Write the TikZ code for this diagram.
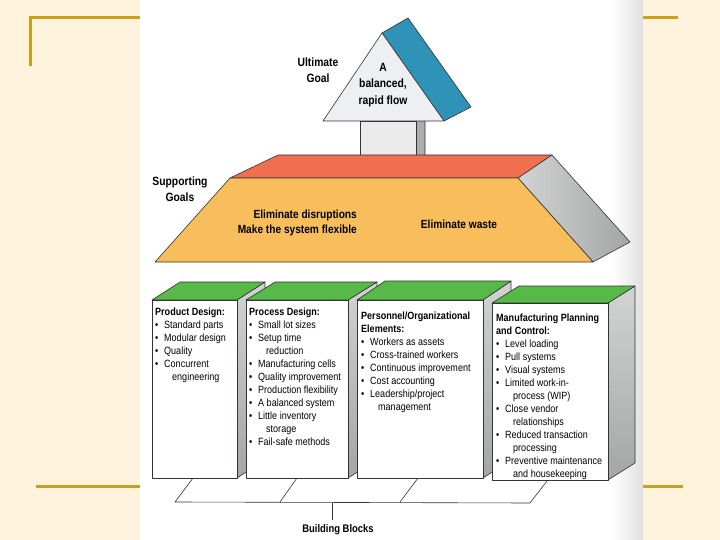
\documentclass[tikz,border=0pt]{standalone}
\usepackage{fontspec}
\setmainfont{Liberation Sans}[FakeStretch=0.86]
\usetikzlibrary{calc}
\definecolor{cream}{HTML}{FEF4DE}
\definecolor{gold}{HTML}{C9A01C}
\definecolor{roofred}{HTML}{EF6F4E}
\definecolor{slaborange}{HTML}{F8BE5C}
\definecolor{sidegrey}{HTML}{B9BBBB}
\definecolor{sidelight}{HTML}{D2D4D4}
\definecolor{sidedark}{HTML}{A4A6A6}
\definecolor{roofblue}{HTML}{2E93B6}
\definecolor{trifront}{HTML}{EDEFF3}
\definecolor{topgreen}{HTML}{57B947}
\definecolor{edgec}{HTML}{333333}
\newcommand{\bi}{\makebox[9pt][l]{\textbullet}}
\newcommand{\ci}{\hspace*{17pt}}
\begin{document}
\begin{tikzpicture}[x=1pt,y=-1pt,
  edge/.style={draw=edgec, line width=0.6pt, line join=round},
  goldline/.style={draw=gold, line width=3pt},
  sideface/.style={edge, top color=sidelight, bottom color=sidedark},
  boxtxt/.style={anchor=north west, align=left, inner sep=0pt, font=\fontsize{10.5}{13}\selectfont},
  hdr/.style={align=center, inner sep=0pt, font=\bfseries\fontsize{12}{16}\selectfont},
  slabtxt/.style={inner sep=0pt, font=\bfseries\fontsize{11.8}{15}\selectfont}]
\useasboundingbox (0,0) rectangle (720,540);
\fill[cream] (0,0) rectangle (720,540);
% gold frame lines
\draw[goldline] (30,66) -- (30,18) -- (145,18);
\draw[goldline] (635,18) -- (678,18);
\draw[goldline] (36,486) -- (145,486);
\draw[goldline] (635,486) -- (683,486);
% white page
\fill[white] (140,0) rectangle (643,540);
\shade[left color=white, right color=black!12] (612,0) rectangle (643,540);

% chimney
\coordinate (c1) at (360,121); \coordinate (c2) at (416,121);
\coordinate (c3) at (416,156); \coordinate (c4) at (360,156);
\coordinate (c5) at (425,116); \coordinate (c6) at (425,156);
\filldraw[edge, fill=black!32] (c2) -- (c5) -- (c6) -- (c3) -- cycle;
\filldraw[edge, fill=black!8] (c1) -- (c2) -- (c3) -- (c4) -- cycle;

% roof triangle
\coordinate (t1) at (323,121); \coordinate (t2) at (444,121);
\coordinate (ta) at (382,33); \coordinate (tb) at (408,18);
\coordinate (tc) at (471,107);
\filldraw[edge, fill=roofblue] (ta) -- (tb) -- (tc) -- (t2) -- cycle;
\filldraw[edge, fill=trifront] (t1) -- (ta) -- (t2) -- cycle;
\node[hdr, font=\bfseries\fontsize{12}{16.5}\selectfont] (flow) at (383,85) {A\\balanced,\\rapid flow};
\node[hdr] (ult) at (318,70) {Ultimate\\Goal};

% supporting goals slab
\coordinate (s1) at (278,155); \coordinate (s2) at (552,155);
\coordinate (s3) at (518,178); \coordinate (s4) at (230,178);
\coordinate (s5) at (593,262); \coordinate (s6) at (155,262);
\coordinate (s7) at (630,242);
\filldraw[edge, fill=roofred] (s1) -- (s2) -- (s3) -- (s4) -- cycle;
\shadedraw[edge, left color=sidelight, right color=sidedark] (s3) -- (s2) -- (s7) -- (s5) -- cycle;
\filldraw[edge, fill=slaborange] (s4) -- (s3) -- (s5) -- (s6) -- cycle;
\node[hdr] (sup) at (180,189) {Supporting\\Goals};
\node[slabtxt, anchor=east, align=right] (elim1) at (357,222.5) {Eliminate disruptions\\Make the system flexible};
\node[slabtxt] (elim2) at (459,224) {Eliminate waste};

% platform
\coordinate (p1) at (175,502); \coordinate (p1t) at (193,478);
\coordinate (p2) at (280,502); \coordinate (p2t) at (297,478);
\coordinate (p3) at (400,502); \coordinate (p3t) at (418,478);
\coordinate (p4) at (530,503); \coordinate (p4t) at (547,481);
\coordinate (pm) at (332,502.5); \coordinate (pb) at (332,520);
\draw[edge] (p1t) -- (p1) -- (p4) -- (p4t);
\draw[edge] (p2) -- (p2t);
\draw[edge] (p3) -- (p3t);
\draw[edge] (pm) -- (pb);
\node[inner sep=0pt, font=\bfseries\fontsize{11}{13}\selectfont] (bb) at (338,530) {Building Blocks};

% building blocks
% box1
\shadedraw[sideface] (237,300) -- (265,282) -- (265,460) -- (237,478) -- cycle;
\filldraw[edge, fill=topgreen] (152,300) -- (180,282) -- (265,282) -- (237,300) -- cycle;
\filldraw[edge, fill=white] (152,300) rectangle (237,478);
% box2
\shadedraw[sideface] (348,300) -- (377,282) -- (377,460) -- (348,478) -- cycle;
\filldraw[edge, fill=topgreen] (246,300) -- (275,282) -- (377,282) -- (348,300) -- cycle;
\filldraw[edge, fill=white] (246,300) rectangle (348,478);
% box3
\shadedraw[sideface] (483,300) -- (511,281) -- (511,460) -- (483,478) -- cycle;
\filldraw[edge, fill=topgreen] (357,300) -- (385,281) -- (511,281) -- (483,300) -- cycle;
\filldraw[edge, fill=white] (357,300) rectangle (483,478);
% box4
\shadedraw[sideface] (608,303) -- (635,286) -- (635,463) -- (608,480) -- cycle;
\filldraw[edge, fill=topgreen] (492,303) -- (519,286) -- (635,286) -- (608,303) -- cycle;
\filldraw[edge, fill=white] (492,303) rectangle (608,480);

\node[boxtxt] (b1) at (155,307.5) {\textbf{Product Design:}\\
\bi Standard parts\\
\bi Modular design\\
\bi Quality\\
\bi Concurrent\\
\ci engineering};
\node[boxtxt] (b2) at (249,307.5) {\textbf{Process Design:}\\
\bi Small lot sizes\\
\bi Setup time\\
\ci reduction\\
\bi Manufacturing cells\\
\bi Quality improvement\\
\bi Production flexibility\\
\bi A balanced system\\
\bi Little inventory\\
\ci storage\\
\bi Fail-safe methods};
\node[boxtxt] (b3) at (361,312) {\textbf{Personnel/Organizational}\\
\textbf{Elements:}\\
\bi Workers as assets\\
\bi Cross-trained workers\\
\bi Continuous improvement\\
\bi Cost accounting\\
\bi Leadership/project\\
\ci management};
\node[boxtxt] (b4) at (496,314) {\textbf{Manufacturing Planning}\\
\textbf{and Control:}\\
\bi Level loading\\
\bi Pull systems\\
\bi Visual systems\\
\bi Limited work-in-\\
\ci process (WIP)\\
\bi Close vendor\\
\ci relationships\\
\bi Reduced transaction\\
\ci processing\\
\bi Preventive maintenance\\
\ci and housekeeping};
\end{tikzpicture}
\end{document}
